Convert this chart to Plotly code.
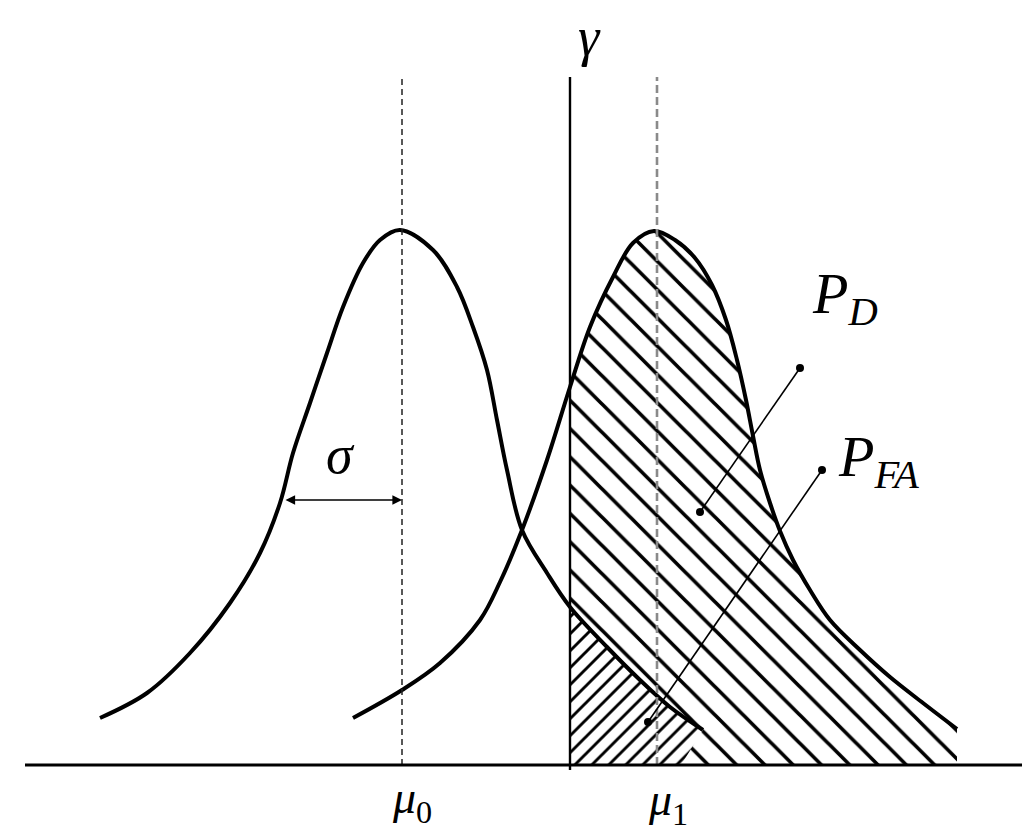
import plotly.graph_objects as go

# ---- data (x: horizontal position, y: height above the baseline) ----
h0_x = [100, 147, 190, 230, 260, 280, 293, 310, 327, 343, 363, 380, 400, 433, 457, 473, 487, 497, 507, 522, 547, 570, 607, 640, 670, 703]
h0_y = [47, 72, 112, 162, 212, 262, 312, 362, 412, 458, 502, 525, 535, 515, 478, 438, 395, 345, 295, 235, 192, 158, 118, 85, 58, 35]
h1_x = [353, 402, 440, 480, 500, 522, 547, 570, 590, 613, 633, 654, 675, 695, 712, 726, 737, 746, 753, 760, 770, 780, 793, 810, 830, 860, 890, 923, 957]
h1_y = [47, 75, 102, 145, 183, 235, 305, 378, 438, 488, 522, 534, 525, 507, 480, 445, 405, 365, 329, 295, 262, 234, 205, 175, 145, 115, 88, 62, 36]

mu0_x = 402
mu1_x = 657
gamma_x = 570
line_top = 688
axis_x = [25, 1022]
pfa_tail_x = 681

sigma_y = 265
sigma_left_x = 284

pd_leader_x = [800, 700]
pd_leader_y = [397, 253]
pfa_leader_x = [822, 648]
pfa_leader_y = [295, 43]

FONT = "Liberation Serif, Times New Roman, serif"

fig = go.Figure()

# P_D region: under H1 to the right of gamma
pd_x = [x for x in h1_x if x >= gamma_x]
pd_y = [y for x, y in zip(h1_x, h1_y) if x >= gamma_x]
fig.add_trace(go.Scatter(
    x=pd_x, y=pd_y, mode="lines", line=dict(width=0, shape="spline"),
    fill="tozeroy", fillcolor="rgba(0,0,0,0)",
    fillpattern=dict(shape="\\", size=20, solidity=0.18, fgcolor="black", fgopacity=1,
                     bgcolor="rgba(0,0,0,0)"),
    hoverinfo="skip", showlegend=False))

# P_FA region: under H0 to the right of gamma
pfa_x = [x for x in h0_x if x >= gamma_x] + [pfa_tail_x]
pfa_y = [y for x, y in zip(h0_x, h0_y) if x >= gamma_x] + [0]
fig.add_trace(go.Scatter(
    x=pfa_x, y=pfa_y, mode="lines", line=dict(width=0),
    fill="tozeroy", fillcolor="white",
    fillpattern=dict(shape="/", size=12, solidity=0.24, fgcolor="black", fgopacity=1,
                     bgcolor="white"),
    hoverinfo="skip", showlegend=False))

# curves
for cx, cy in ((h0_x, h0_y), (h1_x, h1_y)):
    fig.add_trace(go.Scatter(x=cx, y=cy, mode="lines",
                             line=dict(color="black", width=4, shape="spline", smoothing=1.0),
                             hoverinfo="skip", showlegend=False))

# mean lines
fig.add_trace(go.Scatter(x=[mu0_x, mu0_x], y=[0, line_top + 2], mode="lines",
                         line=dict(color="#222222", width=1.5, dash="6px,4px"),
                         hoverinfo="skip", showlegend=False))
fig.add_trace(go.Scatter(x=[mu1_x, mu1_x], y=[0, line_top], mode="lines",
                         line=dict(color="#8a8a8a", width=2.6, dash="8px,4px"),
                         hoverinfo="skip", showlegend=False))
# threshold
fig.add_trace(go.Scatter(x=[gamma_x, gamma_x], y=[-5, line_top], mode="lines",
                         line=dict(color="black", width=2.4),
                         hoverinfo="skip", showlegend=False))
# baseline
fig.add_trace(go.Scatter(x=axis_x, y=[0, 0], mode="lines",
                         line=dict(color="black", width=2.8),
                         hoverinfo="skip", showlegend=False))

# leader lines
for lx, ly in ((pd_leader_x, pd_leader_y), (pfa_leader_x, pfa_leader_y)):
    fig.add_trace(go.Scatter(x=lx, y=ly, mode="lines+markers",
                             line=dict(color="black", width=1.6),
                             marker=dict(color="black", size=8),
                             hoverinfo="skip", showlegend=False))

# sigma arrow
fig.add_annotation(x=mu0_x, y=sigma_y, ax=sigma_left_x, ay=sigma_y, xref="x", yref="y",
                   axref="x", ayref="y", text="", showarrow=True,
                   arrowhead=2, startarrowhead=2, arrowside="end+start",
                   arrowsize=1.2, startarrowsize=1.2, arrowwidth=1.6, arrowcolor="black")

labels = [
    ("<i>γ</i>", 589, 728, 54),
    ("<i>μ</i><sub>0</sub>", 412, -36, 46),
    ("<i>μ</i><sub>1</sub>", 668, -38, 46),
    ("<i>σ</i>", 340, 310, 54),
    ("<i>P</i><sub><i>D</i></sub>", 845, 468, 58),
    ("<i>P</i><sub><i>FA</i></sub>", 878, 305, 58),
]
for t, x, y, s in labels:
    fig.add_annotation(x=x, y=y, xref="x", yref="y", text=t, showarrow=False,
                       font=dict(family=FONT, size=s, color="black"),
                       xanchor="center", yanchor="middle")

# the page adds an 8px body margin: shift the ranges so positions line up
fig.update_xaxes(range=[8, 1041], visible=False, fixedrange=True)
fig.update_yaxes(range=[-81, 757], visible=False, fixedrange=True)
fig.update_layout(width=1033, height=838, autosize=False,
                  margin=dict(l=0, r=0, t=0, b=0, pad=0),
                  plot_bgcolor="white", paper_bgcolor="white")

fig.write_html("out.html")
